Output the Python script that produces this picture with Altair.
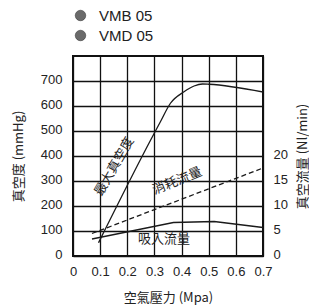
import altair as alt
import pandas as pd

# Max vacuum curve (mmHg, left axis)
vac_pressure = [0.094, 0.29, 0.322, 0.359, 0.409, 0.446, 0.477, 0.501, 0.7]
vac_values = [53, 472, 537, 611, 657, 680, 688, 687, 656]

# Consumption flow (Nl/min, right axis, dashed)
cons_pressure = [0.07, 0.7]
cons_values = [4.5, 17.6]

# Suction flow (Nl/min, right axis)
suc_pressure = [0.07, 0.37, 0.52, 0.7]
suc_values = [3.4, 6.7, 6.9, 5.7]

models = ["VMB 05", "VMD 05"]

ann_text = ["最大真空度", "消耗流量", "吸入流量"]
ann_x = [0.152, 0.384, 0.335]
ann_y = [358, 300, 68]
ann_angle = [300, 338, 0]

x_ticks = [0, 0.1, 0.2, 0.3, 0.4, 0.5, 0.6, 0.7]
left_ticks = [0, 100, 200, 300, 400, 500, 600, 700]
right_ticks = [0, 5, 10, 15, 20]

CJK = "Noto Sans CJK TC"
LAT = "Liberation Sans"
INK = "#1a1a1a"

vac_df = pd.DataFrame({"p": vac_pressure, "v": vac_values})
cons_df = pd.DataFrame({"p": cons_pressure, "f": cons_values})
suc_df = pd.DataFrame({"p": suc_pressure, "f": suc_values})
ann_df = pd.DataFrame({"t": ann_text, "p": ann_x, "v": ann_y, "a": ann_angle})
leg_df = pd.DataFrame({"m": models})

xscale = alt.Scale(domain=[0, 0.7], nice=False, zero=False)
x_axis = alt.Axis(values=x_ticks, format=".1~f", title="空氣壓力 (Mpa)",
                  grid=True, gridColor="#111", gridWidth=1.3,
                  ticks=False, domain=False, labelPadding=9,
                  labelFont=LAT, labelFontSize=13, labelColor="#222",
                  titleFont=CJK, titleFontSize=13, titleFontWeight="normal",
                  titleColor="#222", titleX=95, titleY=41, titleBaseline="middle",
                  labelFlush=False)

left_axis = alt.Axis(values=left_ticks, title="真空度 (mmHg)", grid=True,
                     gridColor="#111", gridWidth=1.3, ticks=False, domain=False,
                     labelPadding=11, labelFont=LAT, labelFontSize=13, labelColor="#222",
                     labelOffset=-2,
                     titleFont=CJK, titleFontSize=13, titleFontWeight="normal",
                     titleColor="#222", titleX=-55, titleY=100, titleAngle=270,
                     titleBaseline="middle", titleAlign="center")
yl = alt.Scale(domain=[0, 800], nice=False)

vac = alt.Chart(vac_df).mark_line(color=INK, strokeWidth=1.3, interpolate="monotone").encode(
    x=alt.X("p:Q", scale=xscale, axis=x_axis),
    y=alt.Y("v:Q", scale=yl, axis=left_axis))

ann = alt.Chart(ann_df).mark_text(font=CJK, fontSize=13, color="#222").encode(
    x=alt.X("p:Q", scale=xscale, axis=x_axis), y=alt.Y("v:Q", scale=yl, axis=left_axis),
    text="t:N", angle=alt.Angle("a:Q", scale=None))

leg = alt.Chart(leg_df).mark_circle(opacity=0, size=100).encode(
    color=alt.Color("m:N", scale=alt.Scale(domain=models, range=["#6a6a6a", "#6a6a6a"]),
                    legend=alt.Legend(title=None, orient="none", legendX=0, legendY=-48,
                                      padding=0, symbolType="circle", symbolSize=110,
                                      symbolOpacity=1, symbolStrokeColor="#3a3a3a",
                                      symbolStrokeWidth=0.6, labelFont=LAT,
                                      labelFontSize=15, labelColor="#222", labelOffset=11,
                                      rowPadding=4)))

left_group = alt.layer(vac, ann, leg)

right_axis = alt.Axis(values=right_ticks, orient="right", title="真空流量 (Nl/min)",
                      grid=False, ticks=False, domain=False, labelPadding=10,
                      labelFont=LAT, labelFontSize=13, labelColor="#222",
                      labelOffset=-2,
                      titleFont=CJK, titleFontSize=13, titleFontWeight="normal",
                      titleColor="#222", titleX=39, titleY=100, titleAngle=270,
                      titleBaseline="middle", titleAlign="center")
yr = alt.Scale(domain=[0, 40], nice=False)

cons = alt.Chart(cons_df).mark_line(color=INK, strokeWidth=1.3, strokeDash=[5, 3]).encode(
    x=alt.X("p:Q", scale=xscale, axis=x_axis), y=alt.Y("f:Q", scale=yr, axis=right_axis))
suc = alt.Chart(suc_df).mark_line(color=INK, strokeWidth=1.3).encode(
    x=alt.X("p:Q", scale=xscale, axis=x_axis), y=alt.Y("f:Q", scale=yr, axis=right_axis))

right_group = alt.layer(cons, suc)

chart = alt.layer(left_group, right_group).resolve_scale(y="independent").properties(
    width=190, height=200,
    autosize=alt.AutoSizeParams(type="none"),
    padding={"left": 65, "top": 48, "right": 46, "bottom": 50},
    background="white",
).configure_view(fill="#e6e7e8", stroke="#111", strokeWidth=2)

chart.save("out.html", embed_options={"renderer": "svg", "actions": False})
